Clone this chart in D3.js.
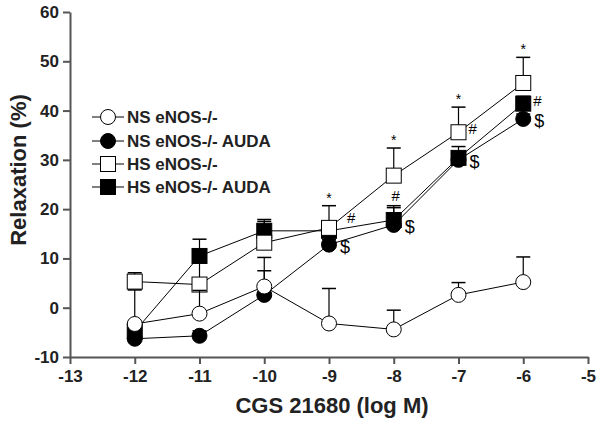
<!DOCTYPE html>
<html>
<head>
<meta charset="utf-8">
<script src="https://cdn.jsdelivr.net/npm/d3@7"></script>
<style>
  body { margin: 0; background: #fff; }
  svg { display: block; }
  .axis path, .axis line { stroke: #555; stroke-width: 2; }
  .axis text { font-family: "Liberation Sans", Arial, sans-serif; font-weight: bold; font-size: 17px; fill: #222; }
  .label { font-family: "Liberation Sans", Arial, sans-serif; font-weight: bold; font-size: 22px; fill: #222; }
  .legend text { font-family: "Liberation Sans", Arial, sans-serif; font-weight: bold; font-size: 17px; fill: #222; }
  .mark { font-family: "Liberation Sans", Arial, sans-serif; fill: #000; }
</style>
</head>
<body>
<div id="chart"></div>
<script>
// data
var doses = [-12, -11, -10, -9, -8, -7, -6];

var nsKO       = [-3.3, -1.2, 4.3, -3.2, -4.4, 2.6, 5.2];
var nsKOErr    = [6.9, 4.7, 5.9, 7.1, 3.9, 2.5, 5.1];
var nsAUDA     = [-6.3, -5.7, 2.6, 12.8, 16.8, 30.0, 38.3];
var nsAUDAErr  = [1.0, 1.0, 4.9, 1.0, 3.5, 1.5, 1.0];
var hsKO       = [5.3, 4.7, 13.2, 16.2, 26.8, 35.6, 45.6];
var hsKOErr    = [1.8, 4.5, 4.3, 4.5, 5.6, 5.1, 5.2];
var hsAUDA     = [-4.8, 10.5, 15.6, 15.6, 17.8, 30.4, 41.4];
var hsAUDAErr  = [1.5, 3.4, 2.3, 1.5, 2.9, 2.3, 1.5];

var seriesNames = ["NS eNOS-/-", "NS eNOS-/- AUDA", "HS eNOS-/-", "HS eNOS-/- AUDA"];

var xTicks = [-13, -12, -11, -10, -9, -8, -7, -6, -5];
var yTicks = [-10, 0, 10, 20, 30, 40, 50, 60];

// significance marks: dose, series index, placement
var stars = [[-9, 2], [-8, 2], [-7, 2], [-6, 2]];
var hashes = [[-9, 3, "right"], [-8, 3, "above"], [-7, 2, "right"], [-6, 3, "right"]];
var dollars = [[-9, 1], [-8, 1], [-7, 1], [-6, 1]];

var width = 600, height = 425;
var svg = d3.select("#chart").append("svg")
    .attr("width", width)
    .attr("height", height);

var x = d3.scaleLinear().domain([-13, -5]).range([70, 588]);
var y = d3.scaleLinear().domain([-10, 60]).range([357, 12]);

var series = [
  { name: seriesNames[0], v: nsKO, e: nsKOErr, shape: "circle", fill: "#fff" },
  { name: seriesNames[1], v: nsAUDA, e: nsAUDAErr, shape: "circle", fill: "#000" },
  { name: seriesNames[2], v: hsKO, e: hsKOErr, shape: "square", fill: "#fff" },
  { name: seriesNames[3], v: hsAUDA, e: hsAUDAErr, shape: "square", fill: "#000" }
];

// plain hyphen for negatives, like the original
var fmt = function(d) { return String(d); };

var yAxis = d3.axisLeft(y).tickValues(yTicks).tickFormat(fmt).tickSize(7).tickPadding(4).tickSizeOuter(0);
var xAxis = d3.axisBottom(x).tickValues(xTicks).tickFormat(fmt).tickSize(7).tickPadding(6).tickSizeOuter(0);

svg.append("g").attr("class", "axis")
    .attr("transform", "translate(" + x(-13) + ",0)")
    .call(yAxis);
svg.append("g").attr("class", "axis")
    .attr("transform", "translate(0," + y(-10) + ")")
    .call(xAxis);

svg.append("text").attr("class", "label")
    .attr("x", 332).attr("y", 413)
    .attr("text-anchor", "middle")
    .text("CGS 21680 (log M)");
svg.append("text").attr("class", "label")
    .attr("transform", "translate(26,170) rotate(-90)")
    .attr("text-anchor", "middle")
    .text("Relaxation (%)");

var line = d3.line()
    .x(function(d, i) { return x(doses[i]); })
    .y(function(d) { return y(d); });

// draw order: filled circle, filled square, open square, open circle
var order = [1, 3, 2, 0];

function drawMarker(g, s, cx, cy) {
  if (s.shape === "circle") {
    g.append("circle").attr("cx", cx).attr("cy", cy).attr("r", 7.5)
      .attr("fill", s.fill).attr("stroke", "#000").attr("stroke-width", 1);
  } else {
    g.append("rect").attr("x", cx - 7.5).attr("y", cy - 7.5)
      .attr("width", 15).attr("height", 15)
      .attr("fill", s.fill).attr("stroke", "#000").attr("stroke-width", 1);
  }
}

order.forEach(function(k) {
  var s = series[k];
  var g = svg.append("g");
  g.append("path")
    .attr("d", line(s.v))
    .attr("fill", "none")
    .attr("stroke", "#000")
    .attr("stroke-width", 1);
  s.v.forEach(function(v, i) {
    var cx = x(doses[i]);
    var top = y(v + s.e[i]);
    g.append("line").attr("x1", cx).attr("x2", cx)
      .attr("y1", y(v)).attr("y2", top)
      .attr("stroke", "#000").attr("stroke-width", 1.2);
    g.append("line").attr("x1", cx - 7).attr("x2", cx + 7)
      .attr("y1", top).attr("y2", top)
      .attr("stroke", "#000").attr("stroke-width", 1.5);
  });
  s.v.forEach(function(v, i) {
    drawMarker(g, s, x(doses[i]), y(v));
  });
});

function idx(d) { return doses.indexOf(d); }

stars.forEach(function(a) {
  var s = series[a[1]], i = idx(a[0]);
  svg.append("text").attr("class", "mark")
    .attr("x", x(a[0])).attr("y", y(s.v[i] + s.e[i]) - 3)
    .attr("text-anchor", "middle")
    .style("font-size", "14px")
    .text("*");
});

hashes.forEach(function(a) {
  var s = series[a[1]], i = idx(a[0]);
  var t = svg.append("text").attr("class", "mark").style("font-size", "15px");
  if (a[2] === "above") {
    t.attr("x", x(a[0]) + 2).attr("y", y(s.v[i] + s.e[i]) - 5).attr("text-anchor", "middle");
  } else {
    t.attr("x", x(a[0]) + 10).attr("y", y(s.v[i]) + 2);
  }
  if (a[0] === -9) t.attr("x", x(a[0]) + 18).attr("y", y(s.v[i]) - 8);
  t.text("#");
});

dollars.forEach(function(a) {
  var s = series[a[1]], i = idx(a[0]);
  svg.append("text").attr("class", "mark")
    .attr("x", x(a[0]) + 11).attr("y", y(s.v[i]) + 8)
    .style("font-size", "18px")
    .text("$");
});

// legend
var legend = svg.append("g").attr("class", "legend");
var legendY = [117, 141, 164, 187];
series.forEach(function(s, k) {
  var ly = legendY[k];
  legend.append("line").attr("x1", 92).attr("x2", 124)
    .attr("y1", ly).attr("y2", ly)
    .attr("stroke", "#000").attr("stroke-width", 1);
  drawMarker(legend, s, 108, ly);
  legend.append("text").attr("x", 127).attr("y", ly + 6).text(s.name);
});
</script>
</body>
</html>
